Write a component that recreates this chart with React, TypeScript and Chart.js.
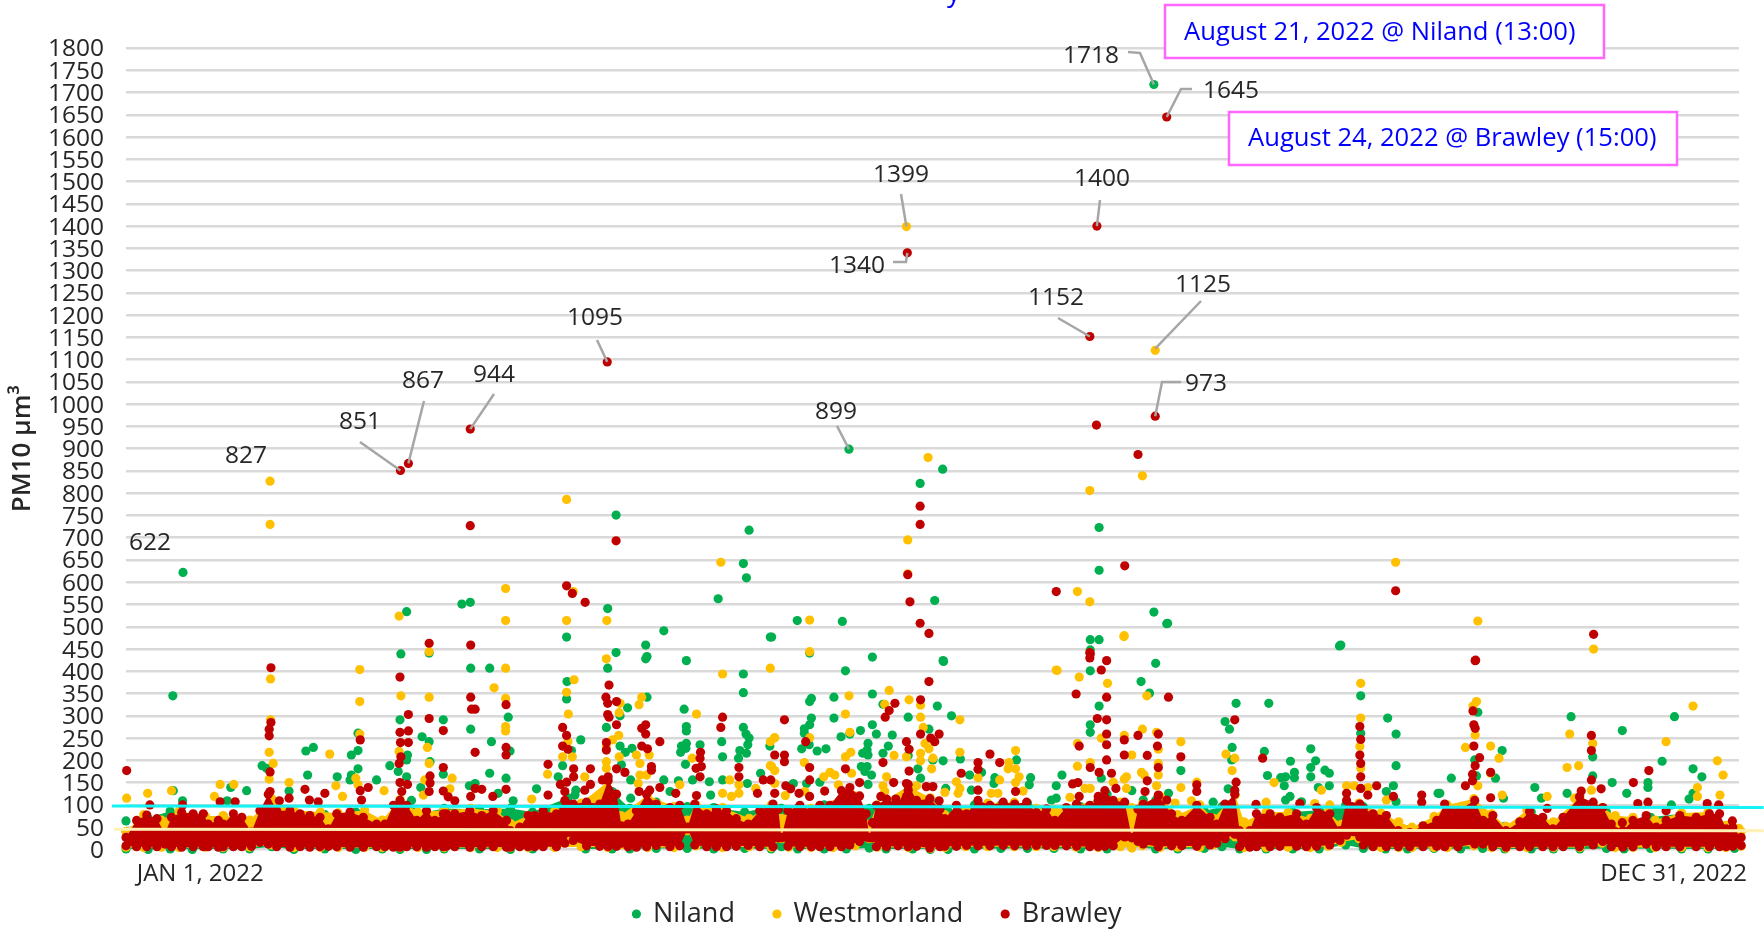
import React, { useEffect, useRef } from "react";
import { Chart, registerables } from "chart.js";

Chart.register(...registerables);

type Pt = [number, number];

const nilandPoints: Pt[] = [
  [12.9,622],[10.6,345],[0,64],[62.2,439],[68.6,441],[62,291],[67,253],[68.6,242],[71.8,291],[40.7,221],[42.4,229],[51,212],[52.5,222],[30.8,188],[31.8,182],[41.1,167],[47.8,163],[52.5,181],[51,167],[50.7,156],[56.7,156],[59.7,188],[61.6,175],[63.5,163],[63.7,212],[63.5,201],[68.8,197],[71.8,169],[66.7,139],[10.7,132],[23.7,139],[27.3,132],[12.8,109],[36.9,131],[22.9,109],[64.6,110],[52.5,261],
  [63.5,534],[76,551],[77.9,555],[78,407],[82.3,407],[99.7,477],[78,270],[82.7,242],[86.5,297],[86.9,221],[82.3,171],[86,160],[79,148],[77.7,143],[84.2,126],[87.6,109],[92.9,136],[97.8,163],[99.8,377],[99.7,338],[102.9,246],[100.8,222],[98.8,188],[101.8,133],[121.7,491],[117.6,459],[117.9,433],[117.6,428],[110.9,442],[109,407],[126.8,424],[117.9,342],[113.5,318],[111.8,300],[108.7,274],[111.8,232],[113,218],[114.5,227],[112.1,190],[114.2,156],[126.3,315],[126.8,276],[126.8,266],[126.8,238],[125.7,232],[126.7,227],[125.5,218],[126.6,191],[129.9,235],[128.2,156],[123.1,130],[125,154],[121.7,156],[132,152],[132.3,122],[134.8,242],[135,208],[135,156],[139.7,394],[139.7,352],[139.7,274],[140.3,259],[141,250],[140.7,235],[140.4,216],[138.9,222],[138.6,205],[140.6,148],[143.6,171],[145.8,477],[145.7,232],[114.2,115],[101.6,122],
  [110.9,751],[109,541],[141,717],[139.7,642],[140.4,610],[134,563],[151.9,514],[162.1,512],[146.1,477],[154.7,441],[162.8,401],[168.9,432],[184.9,424],[155.1,339],[154.7,332],[160.2,342],[168.9,349],[171.3,326],[160.2,295],[155.1,295],[154.7,280],[153.5,271],[153.5,261],[161.8,253],[166.2,267],[168.9,280],[169.8,259],[173.4,257],[167.9,238],[167.7,223],[166.7,216],[167.9,212],[163.8,259],[172.5,232],[171.3,216],[152.9,226],[156.4,221],[158.4,226],[154.6,235],[166.4,186],[167.7,186],[167.2,175],[168.7,167],[167.9,146],[177,297],[183.6,322],[186.8,300],[181.7,270],[177,211],[184.9,199],[179.2,181],[182.6,201],[190.9,167],[179.8,160],[188.8,203],[201.5,201],[204.7,161],[204.4,145],[196.6,161],[193.6,173],[196.4,148],[191.3,133],[185.5,137],[211.8,167],[210.5,143],[210.5,115],[209.4,111],[218.2,471],[220.2,471],[218.2,448],[218.2,401],[220.2,322],[218.2,280],[218.2,263],[220.7,160],[157,151],[154,148],[151,148],
  [163.6,899],[184.8,854],[179.7,822],[183,559],[185,422],[220.2,723],[220.2,627],[232.6,533],[235.7,508],[274.6,457],[232.6,1718],
  [235.5,507],[274.9,459],[233,418],[229.7,377],[251.2,328],[258.6,328],[248.7,287],[249.7,270],[250.3,229],[250.2,201],[279.4,345],[285.5,295],[287.4,259],[287.4,188],[238.7,177],[268.1,226],[268.1,184],[268.1,163],[269.2,199],[263.5,198],[264.4,173],[264.4,161],[262.4,163],[261.3,161],[262.1,143],[258.3,166],[257.6,220],[271.3,178],[272.3,171],[272.3,143],[269.8,139],[286.8,143],[285.2,130],[287.4,107],[263.4,119],[235.9,126],[227.6,132],[249.4,136],[296.9,126],[262.4,111],[279.4,261],[246,106],[266,107],[230.2,111],
  [327,298],[338.6,267],[350.4,298],[305.9,308],[311.4,222],[309.9,160],[299.9,160],[297.3,126],[318.8,139],[320.3,115],[326.1,126],[331.9,208],[331.9,165],[336.3,150],[339.6,126],[344.4,150],[344.4,139],[347.6,198],[354.6,181],[356.6,163],[354.6,126],[353.7,113],[349.7,100],[305.6,165],[311.7,115],[305.2,201],[231.6,351],
];

const westmorlandPoints: Pt[] = [
  [32.6,827],[32.6,730],[0.15,115],[4.9,126],[10.3,132],[21.3,146],[24.4,146],[20,119],[36.9,150],[32.7,383],[32.7,291],[32.4,218],[33.3,193],[32.4,158],[46.1,214],[52.9,404],[52.9,332],[52.9,259],[52,160],[47.5,143],[49,119],[58.4,132],[52.5,145],[61.8,524],[62.2,345],[61.8,220],[68.6,342],[68.6,444],[68.2,229],[68.6,193],[67.3,122],[67.6,156],
  [85.9,586],[85.9,514],[99.7,786],[101.2,579],[99.7,514],[108.8,514],[134.6,645],[85.9,407],[83.3,363],[85.9,339],[85.9,276],[85.9,266],[73.8,160],[73.3,136],[101.4,381],[99.7,353],[100.1,304],[100,242],[98.8,208],[101,208],[95.4,169],[103.8,163],[108.7,428],[111.8,328],[111.6,307],[111.5,256],[110.1,246],[108.7,231],[111.6,208],[108.7,197],[108.7,182],[116.7,342],[116.1,325],[115.5,212],[118.4,212],[116.3,193],[116.3,167],[117.8,167],[115.9,148],[129.1,304],[128.1,205],[135,394],[136.6,156],[135,126],[138.7,145],[138.7,126],[137,119],[145.8,407],[146.7,250],[145.8,242],[145.8,188],[146.8,177],[142.5,137],[125.3,145],[91.8,113],
  [154.7,515],[154.7,444],[163.6,345],[162.8,304],[163.8,263],[172.7,357],[171.7,326],[177.2,336],[179.8,324],[179.8,297],[180.4,274],[188.7,291],[180.8,238],[181.7,226],[173.8,211],[176.6,208],[179.8,216],[179.8,199],[182.6,205],[182.3,181],[188.7,218],[201.3,222],[199.8,195],[199.6,181],[201.3,181],[202.1,163],[201.3,150],[197.7,156],[203,131],[154.7,251],[146.8,251],[153.5,195],[146.1,186],[146.8,148],[162.8,208],[164,218],[164.2,171],[159.3,173],[157.9,163],[160.4,167],[161.2,145],[172.1,163],[171.3,143],[171.7,130],[178.9,143],[178.1,126],[153.6,130],[149.2,121],[187.9,152],[188.7,137],[188.3,126],[185.3,128],[192.8,161],[197.3,126],[195.8,126],[210.5,403],[215.7,387],[215.3,238],[215.3,187],[218.2,195],[220.7,250],[218.2,137],[217,137],[213.6,117],
  [176.6,1399],[181.5,880],[176.9,695],[176.9,619],[232.9,1121],[230,839],[218.1,806],[215.3,579],[218.1,556],[287.3,645],[305.9,513],[225.8,478],[332.1,450],[210.7,402],
  [225.9,480],[222.1,373],[231,345],[238.7,242],[230,270],[225.9,256],[227.6,212],[233.2,263],[233.6,225],[233.6,193],[233.6,167],[229.8,173],[230.4,167],[226.4,163],[225.9,158],[226.4,137],[233.2,143],[223.4,151],[238.7,139],[242.3,151],[248.9,214],[250.9,205],[250.3,177],[279.4,373],[279.4,295],[279.2,231],[279.4,182],[276.2,143],[277.9,143],[259.8,150],[270.5,133],[285.2,111],[258,106],[237.4,104],[241.1,109],[281,139],[272.4,100],[269,103],
  [305.6,332],[304.8,322],[305.3,257],[303.1,229],[308.8,232],[310.7,205],[308.8,171],[305.9,143],[311.4,122],[321.6,119],[326.7,259],[326.1,184],[328.7,188],[331.9,238],[331.6,133],[327.8,115],[348.5,242],[354.6,322],[360.1,199],[361.4,167],[360.7,122],[355.6,139],[355.6,119],[365,47],
];

const brawleyPoints: Pt[] = [
  [62.1,851],[63.9,867],[77.9,944],[77.9,727],[108.9,1095],[176.8,1340],[219.7,1400],[218.1,1152],[219.6,953],[232.9,973],[235.5,1645],[229,887],[179.7,771],[179.7,730],[176.9,617],[177.4,556],[179.7,508],[181.7,485],[226,637],[210.5,579],[287.3,581],[305.4,425],[218.1,442],[218.1,430],[332.1,483],[110.9,693],[99.7,592],[101,575],[103.9,555],
  [0.15,177],[32.8,408],[32.8,285],[32.4,270],[32.4,255],[32.6,174],[40.5,135],[41.5,111],[45,126],[53,132],[54.8,139],[53,246],[62,387],[63.9,303],[62,263],[63.9,266],[62.1,240],[63.9,240],[62.2,208],[61.8,193],[62,150],[63.7,146],[62.4,130],[68.6,463],[68.6,294],[71.8,267],[71.8,184],[68.8,165],[68.8,149],[68.6,130],[71.8,131],[34.7,109],[36.9,115],[32.6,130],[43.5,107],[21.3,107],[24.7,107],[5.4,100],[12.8,100],[53.3,111],
  [78,459],[78,342],[78.2,315],[79,315],[79,218],[86,325],[86,229],[86,212],[86,135],[72.9,118],[74.4,109],[79,137],[80.5,135],[78,119],[83,119],[95.5,191],[95.5,122],[98.8,274],[99.7,256],[98.8,232],[100,225],[98.3,146],[99.7,151],[101.3,181],[101.3,163],[99.3,130],[105.1,181],[105.1,146],[103.8,133],[109.3,369],[108.6,342],[109,328],[109,303],[109.3,297],[111,332],[111,280],[108.7,240],[108.7,223],[111,181],[112.9,173],[107.8,156],[109.1,163],[116.7,272],[117.6,280],[117.6,259],[116.7,232],[118,226],[120.8,242],[118.9,186],[118.9,178],[120.8,139],[116.1,130],[118.5,133],[130,218],[129.9,205],[129,182],[130.2,186],[129.9,163],[124.4,126],[129.1,121],[135,297],[134.6,274],[138.7,184],[138.7,163],[142.9,126],[144.2,156],[145.9,156],[146.8,212],[146.8,126],
  [181.7,377],[179.8,336],[174,328],[172.7,312],[171.8,297],[149,291],[153.8,242],[149,212],[149,197],[179.8,259],[182.1,250],[183,242],[184,259],[176.6,242],[177.2,225],[171.3,195],[162.8,181],[154.7,184],[154.7,156],[166,150],[173.7,150],[177.2,176],[189,171],[192.8,195],[192.8,180],[195.5,214],[197.7,195],[192.8,133],[201.3,130],[149.3,143],[150.4,136],[152.3,126],[158.1,131],[154.7,119],[176.6,148],[177,133],[176.6,119],[181.1,141],[182.6,141],[215,349],[218.2,439],[220.7,403],[221.9,424],[221.9,342],[219.8,294],[221.9,291],[221.9,259],[221.9,235],[221.9,201],[215.7,232],[218.2,184],[220.2,173],[214.2,147],[215.4,150],[215.7,119],[220,119],[170.8,119],[174.2,113],[184,109],
  [235.9,342],[229,256],[233.6,259],[233.4,232],[231.1,211],[225.9,246],[225.9,212],[238.7,208],[233.6,184],[231.1,154],[230.6,130],[233.6,122],[235.5,111],[224,137],[242.3,145],[242.3,130],[250.9,291],[251.2,151],[250.9,133],[257.2,205],[276.2,126],[279.2,276],[279.4,247],[279.2,212],[279.4,193],[279.4,163],[279.4,137],[283,143],[281,122],[286.8,119],[293.2,122],[293.2,106],[265.6,103],[255.7,101],[223,171],
  [305.3,424],[304.8,311],[305,280],[305.3,272],[305,232],[306.3,206],[305.3,188],[304.7,169],[303.1,143],[304.7,154],[308.8,173],[308.8,116],[331.6,256],[331.6,222],[331.6,156],[333.8,136],[344.6,177],[341.1,150],[342.1,103],[344.4,106],[329.3,131],[338.6,60],[348.5,87],[357.8,103],[360.4,100],[363.5,64],[321.6,92],
];

// The dense mass of hourly readings as [day, top, bottom].
const brawleyBand: [number, number, number][] = [
  [0,27,8],[2.4,65,6],[4.7,77,6],[7,69,6],[8.8,35,12],[10.3,72,6],[12.6,83,5],[15.2,80,6],[17.5,80,6],[18.6,57,6],[20.9,65,5],[22,57,6],[24.3,80,6],[26.2,72,6],[28.4,39,7],[30.3,87,16],[32.2,124,12],[34.1,87,6],[37.1,87,5],[39.4,80,6],[41.6,76,5],[43.9,72,6],[45.8,46,7],[47.7,80,6],[50.7,84,5],[53.7,72,5],[56.7,57,6],[58.6,57,6],[60.5,99,5],[62,110,5],[63.5,99,6],[65.8,65,6],[68,87,5],[69.9,65,6],[71.8,80,6],
  [72.5,80,7],[74.4,80,6],[77.8,87,5],[80.5,76,6],[83.1,87,6],[86.1,65,5],[87,42,5],[89.1,50,6],[91,76,6],[92.5,76,6],[94.4,87,6],[97.4,80,6],[99.3,110,14],[100.4,100,38],[101.2,102,20],[104.2,106,8],[107.2,102,7],[109.1,155,6],[111,124,7],[112.1,53,14],[113.6,57,6],[115.5,87,5],[117.8,124,6],[120,102,9],[123.1,94,6],[125.3,99,8],[127.1,50,46],[128.7,102,10],[131.4,80,6],[133.6,91,6],[135.9,87,6],[138.1,69,7],[140.8,57,9],[143.4,87,6],[146.4,102,6],
  [147.6,90,26],[148.3,27,26],[149.8,87,7],[152.5,99,6],[155.1,87,6],[157,99,6],[159.3,99,6],[161.9,132,6],[163.8,139,10],[166,120,18],[167.5,80,28],[168.2,27,26],[168.9,60,26],[169.8,99,6],[172.1,113,6],[174.7,102,8],[177,146,6],[178.9,110,7],[181.9,114,3],[184.2,91,6],[185.3,69,7],[187.9,99,7],[190.2,80,9],[192.8,110,8],[195.5,99,8],[198.5,106,9],[201.1,102,8],[203.8,106,8],[206,83,9],[208.3,91,9],[210.2,65,9],[212.8,94,8],[215.1,102,7],[218.1,99,6],[220,110,6],[221.5,132,7],
  [223.4,110,8],[226,106,28],[227.6,27,26],[229,90,18],[230.2,102,12],[233.6,120,6],[236.6,80,8],[238.9,65,8],[242.3,99,7],[245.3,72,10],[246.8,57,14],[248.7,102,24],[250.9,124,34],[252,42,6],[254.3,42,5],[255.8,80,6],[258.9,80,6],[261.1,72,7],[264.9,80,7],[267.1,57,6],[269.4,94,7],[272.4,80,10],[274.7,42,20],[276.2,110,32],[279.2,102,28],[280,92,10],[282.2,80,6],[285.2,76,6],[287.9,42,6],[290.5,38,6],[293.5,53,6],[296.6,65,7],
  [298.4,102,6],[301.4,87,6],[305.2,110,12],[307.1,65,12],[309.3,76,6],[312.3,42,5],[315.4,62,6],[317.6,85,6],[320.6,72,6],[322.9,46,6],[325.2,72,6],[328.9,118,6],[332,106,10],[334.2,94,18],[336.1,57,6],[338.7,42,5],[341,65,6],[344,76,12],[346.3,50,6],[348.5,65,6],[351.6,76,6],[355.3,72,6],[358.3,80,6],[360.6,80,6],[362.1,46,6],[363.6,50,7],[365.5,27,9],
];

const westmorlandBand: [number, number, number][] = [
  [0,40,5],[4,78,4],[8,66,5],[12,86,4],[18,74,5],[22,76,4],[28,66,5],[33,114,10],[38,88,4],[44,84,4],[48,82,4],[54,88,4],[58,66,4],[62,112,4],[66,84,4],[72,88,4],[78,92,4],[84,86,4],[87,58,4],[91,76,4],[97,86,4],[103,104,6],[109,152,4],[112,76,10],[118,122,4],[124,96,4],[127,66,42],[129,100,8],[135,94,4],[141,70,6],[146,100,4],[148.3,70,24],[150,88,5],[155,92,4],[160,100,4],[165,120,8],[168.2,56,24],[170,100,5],[177,142,4],[182,116,2],[185.3,78,4],[190,88,6],[195,104,6],[201,106,6],[206,92,6],[210,90,6],[215,100,5],[220,110,4],[225,106,6],[227.6,94,3],[230,102,8],[234,120,4],[238,78,5],[243,100,5],[246,70,10],[251,122,28],[253,62,4],[258,84,4],[263,84,5],[268,70,4],[272,84,7],[275,56,16],[279,104,24],[284,82,4],[288,62,4],[291,50,4],[296,74,4],[299,100,4],[305,114,8],[309,80,4],[312.3,52,3],[317,88,4],[323,62,4],[329,118,4],[334,94,14],[337,76,4],[341,72,4],[346,66,4],[352,82,4],[358,84,4],[362,54,4],[365.5,40,7],
];

const nilandBand: [number, number, number][] = [
  [0,40,1],[5,70,0],[10,86,1],[15,76,0],[22,74,1],[28,58,1],[33,104,6],[38,84,0],[45,78,1],[52,84,0],[58,60,1],[62,104,0],[68,84,0],[72,92,1],[80,90,1],[87,92,0],[92,84,1],[100,116,20],[104,96,1],[110,130,1],[114,92,1],[120,106,2],[127,96,2],[133,94,1],[140,84,2],[146,96,1],[148.3,92,6],[152,92,1],[158,100,1],[163,120,1],[168.2,92,3],[172,100,1],[178,130,1],[182,108,0],[186,86,0],[192,100,1],[198,100,2],[204,104,2],[210,84,2],[216,96,1],[222,124,1],[227.6,60,6],[233,110,1],[238,70,1],[244,86,2],[248,96,6],[252,38,1],[258,80,1],[264,84,1],[270,88,1],[276,100,10],[280,96,2],[285,76,1],[290,44,1],[296,66,2],[302,86,1],[307,76,2],[312,52,1],[318,84,1],[323,60,1],[329,110,1],[335,84,2],[339,50,1],[345,72,2],[352,80,1],[358,74,1],[364,40,2],
];

const referenceHigh: Pt[] = [[-3.2,97.5],[370.6,94]];
const referenceLow: Pt[] = [[-2.7,45],[370.6,42]];

const xTickDays = [16.8, 350.2];
const xTickLabels = ["JAN 1, 2022", "DEC 31, 2022"];

// Callouts: value and the day it sits on; label placement is kept apart in calloutStyle.
const calloutValues = [622, 827, 851, 867, 944, 1095, 899, 1399, 1340, 1400, 1152, 1125, 973, 1718, 1645];
const calloutDays = [12.9, 32.6, 62.1, 63.9, 77.9, 108.9, 163.6, 176.6, 176.8, 219.7, 218.1, 232.9, 232.9, 232.6, 235.5];

const notes = ["August 21, 2022 @ Niland (13:00)", "August 24, 2022 @ Brawley (15:00)"];
const croppedTitleTail = "y";

// Canvas-pixel placement of each callout label and the elbow(s) of its leader.
const calloutStyle: { lx: number; ly: number; path: number[][] }[] = [
  { lx: 150, ly: 543, path: [] },
  { lx: 246, ly: 456, path: [] },
  { lx: 360, ly: 422, path: [[360, 442]] },
  { lx: 423, ly: 381, path: [[424, 401]] },
  { lx: 494, ly: 375, path: [[494, 394]] },
  { lx: 595, ly: 318, path: [[597, 340]] },
  { lx: 836, ly: 412, path: [[837, 426]] },
  { lx: 901, ly: 175, path: [[901, 194]] },
  { lx: 857, ly: 266, path: [[893, 262], [906, 262]] },
  { lx: 1102, ly: 179, path: [[1100, 200]] },
  { lx: 1056, ly: 298, path: [[1058, 318]] },
  { lx: 1203, ly: 285, path: [[1201, 301]] },
  { lx: 1206, ly: 384, path: [[1181, 382], [1162, 382]] },
  { lx: 1091, ly: 56, path: [[1128, 52], [1140, 53]] },
  { lx: 1231, ly: 91, path: [[1192, 89], [1181, 89]] },
];

const FONT = '"Open Sans", sans-serif';

const calloutPlugin = {
  id: "callouts",
  afterLayout(chart: any) {
    // Tick labels are clipped to the axis box: let that box reach past the labels.
    chart.scales.x.bottom = chart.scales.x.top + 50;
    // The legend's centre sits a little right of the canvas centre.
    chart.legend.left += 16;
  },
  afterDatasetsDraw(chart: any) {
    const { ctx, scales } = chart;
    ctx.save();
    ctx.strokeStyle = "#A6A6A6";
    ctx.lineWidth = 2.5;
    calloutValues.forEach((v, i) => {
      const st = calloutStyle[i];
      const px = scales.x.getPixelForValue(calloutDays[i]);
      const py = scales.y.getPixelForValue(v);
      if (st.path.length) {
        ctx.beginPath();
        st.path.forEach(([x, y], k) => (k === 0 ? ctx.moveTo(x, y) : ctx.lineTo(x, y)));
        ctx.lineTo(px, py);
        ctx.stroke();
      }
      ctx.fillStyle = "#262626";
      ctx.font = `24.5px ${FONT}`;
      ctx.textAlign = "center";
      ctx.textBaseline = "middle";
      ctx.fillText(String(v), st.lx, st.ly);
    });
    const boxes = [
      { x: 1165, y: 5, w: 439, h: 53, tx: 1184, ty: 33 },
      { x: 1229, y: 112, w: 448, h: 53, tx: 1248, ty: 139 },
    ];
    boxes.forEach((b, i) => {
      ctx.fillStyle = "#FFFFFF";
      ctx.fillRect(b.x, b.y, b.w, b.h);
      ctx.strokeStyle = "#FF66FF";
      ctx.lineWidth = 2.5;
      ctx.strokeRect(b.x, b.y, b.w, b.h);
      ctx.fillStyle = "#0000FF";
      ctx.font = `25.6px ${FONT}`;
      ctx.textAlign = "left";
      ctx.textBaseline = "middle";
      ctx.fillText(notes[i], b.tx, b.ty);
    });
    ctx.fillStyle = "#0000FF";
    ctx.font = `27px ${FONT}`;
    ctx.textAlign = "left";
    ctx.textBaseline = "alphabetic";
    ctx.fillText(croppedTitleTail, 947, 1);
    ctx.restore();
  },
};

const toXY = (d: Pt[]) => d.map(([x, y]) => ({ x, y }));

const points = (label: string, d: Pt[], color: string, order: number) => ({
  type: "scatter",
  label,
  data: toXY(d),
  backgroundColor: color,
  borderColor: color,
  borderWidth: 0,
  pointRadius: 4.6,
  pointHoverRadius: 4.6,
  clip: false,
  order,
});

const bandEdges = (label: string, band: [number, number, number][], color: string, order: number) => [
  {
    type: "line",
    label: label + " upper",
    data: band.map(([x, t]) => ({ x, y: t })),
    backgroundColor: color,
    borderColor: color,
    borderWidth: 0,
    pointRadius: 4.6,
    pointBorderWidth: 0,
    tension: 0,
    fill: "+1",
    clip: false,
    order,
  },
  {
    type: "line",
    label: label + " lower",
    data: band.map(([x, , b]) => ({ x, y: b })),
    backgroundColor: color,
    borderColor: color,
    borderWidth: 0,
    pointRadius: 4.6,
    pointBorderWidth: 0,
    tension: 0,
    fill: false,
    clip: false,
    order,
  },
];

const refLine = (label: string, d: Pt[], color: string, width: number, order: number) => ({
  type: "line",
  label,
  data: toXY(d),
  borderColor: color,
  backgroundColor: color,
  borderWidth: width,
  pointRadius: 0,
  tension: 0,
  fill: false,
  clip: false,
  order,
});

export default function App() {
  const ref = useRef<HTMLCanvasElement | null>(null);
  useEffect(() => {
    if (!ref.current) return;
    const chart = new Chart(ref.current, {
      type: "scatter",
      data: {
        datasets: [
          points("Niland", nilandPoints, "#00B050", 8),
          points("Westmorland", westmorlandPoints, "#FFC000", 6),
          points("Brawley", brawleyPoints, "#C00000", 3),
          ...bandEdges("Niland band", nilandBand, "#00B050", 7),
          ...bandEdges("Westmorland band", westmorlandBand, "#FFC000", 5),
          ...bandEdges("Brawley band", brawleyBand, "#C00000", 4),
          refLine("Upper reference", referenceHigh, "#14F4F4", 3, 1),
          refLine("Lower reference", referenceLow, "#FFF0B4", 3, 2),
        ] as any,
      },
      options: {
        responsive: false,
        animation: false,
        events: [],
        layout: { padding: { left: 0, right: 25, top: 48, bottom: -7.5 } },
        plugins: {
          tooltip: { enabled: false },
          title: { display: false },
          legend: {
            position: "bottom",
            labels: {
              filter: (item: any) => item.datasetIndex < 3,
              sort: (a: any, b: any) => a.datasetIndex - b.datasetIndex,
              usePointStyle: true,
              pointStyle: "circle",
              boxHeight: 6.5,
              boxWidth: 6,
              color: "#262626",
              padding: 39,
              font: { family: FONT, size: 27 },
            },
          },
        },
        scales: {
          x: {
            type: "linear",
            min: 0,
            max: 365,
            afterFit: (s: any) => { s.height = 12.1; },
            afterBuildTicks: (s: any) => { s.ticks = xTickDays.map((value) => ({ value })); },
            border: { display: false },
            grid: { display: false, drawTicks: false },
            ticks: {
              autoSkip: false,
              maxRotation: 0,
              padding: 10,
              color: "#262626",
              font: { family: FONT, size: 24 },
              callback: (_v: any, i: number) => xTickLabels[i],
            },
          },
          y: {
            min: 0,
            max: 1800,
            afterFit: (s: any) => { s.width = 126; },
            border: { display: false },
            grid: { color: "#D9D9D9", lineWidth: 2.5, drawTicks: false },
            title: {
              display: true,
              text: "PM10 µm³",
              color: "#262626",
              padding: { top: 7, bottom: 0 },
              font: { family: FONT, size: 26, weight: "600" },
            },
            ticks: {
              stepSize: 50,
              autoSkip: false,
              padding: 22,
              labelOffset: 1.5,
              color: "#262626",
              font: { family: FONT, size: 24.5 },
              callback: (v: any) => String(v),
            },
          },
        },
      } as any,
      plugins: [calloutPlugin],
    });
    return () => chart.destroy();
  }, []);
  return (
    <div style={{ position: "fixed", left: 0, top: 0, width: 1764, height: 930, background: "#FFFFFF" }}>
      <canvas ref={ref} width={1764} height={930} style={{ display: "block" }} />
    </div>
  );
}
